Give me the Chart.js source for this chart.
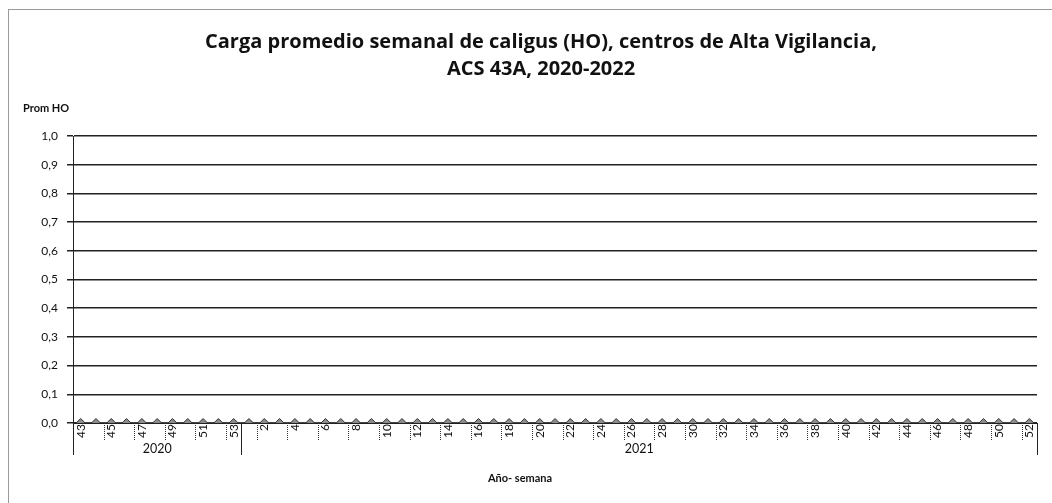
<!DOCTYPE html>
<html>
<head>
<meta charset="utf-8">
<script src="https://cdn.jsdelivr.net/npm/chart.js@4.4.1/dist/chart.umd.min.js"></script>
<style>
  html, body { margin: 0; padding: 0; background: #fff; overflow: hidden; }
  #wrap { position: relative; width: 1052px; height: 503px; }
  #frame { position: absolute; left: 8px; top: 9px; width: 1100px; height: 600px; border: 1px solid #9a9a9a; pointer-events: none; }
</style>
</head>
<body>
<div id="wrap">
  <canvas id="c" width="1052" height="503"></canvas>
  <div id="frame"></div>
</div>
<script>
// ---- data ----
const years = ['2020', '2021'];
const weeks2020 = [43, 44, 45, 46, 47, 48, 49, 50, 51, 52, 53];
const weeks2021 = [1, 2, 3, 4, 5, 6, 7, 8, 9, 10, 11, 12, 13, 14, 15, 16, 17, 18, 19, 20, 21, 22, 23, 24, 25, 26,
                   27, 28, 29, 30, 31, 32, 33, 34, 35, 36, 37, 38, 39, 40, 41, 42, 43, 44, 45, 46, 47, 48, 49, 50, 51, 52];
const values2020 = [0, 0, 0, 0, 0, 0, 0, 0, 0, 0, 0];
const values2021 = [0, 0, 0, 0, 0, 0, 0, 0, 0, 0, 0, 0, 0, 0, 0, 0, 0, 0, 0, 0, 0, 0, 0, 0, 0, 0,
                    0, 0, 0, 0, 0, 0, 0, 0, 0, 0, 0, 0, 0, 0, 0, 0, 0, 0, 0, 0, 0, 0, 0, 0, 0, 0];
const yTicks = [0.0, 0.1, 0.2, 0.3, 0.4, 0.5, 0.6, 0.7, 0.8, 0.9, 1.0];
const titleLines = ['Carga promedio semanal de caligus (HO), centros de Alta Vigilancia,', 'ACS 43A, 2020-2022'];
const yAxisTitle = 'Prom HO';
const xAxisTitle = 'Año- semana';

const weekGroups = [weeks2020, weeks2021];
const labels = weekGroups.flat().map(String);
const values = [values2020, values2021].flat();

const FONT = 'Lato, "Open Sans", sans-serif';

const groupPlugin = {
  id: 'groups',
  afterDraw(chart) {
    const ctx = chart.ctx;
    const x = chart.scales.x;
    const area = chart.chartArea;
    const step = x.getPixelForValue(1) - x.getPixelForValue(0);
    const boundary = i => x.getPixelForValue(i) - step / 2;
    ctx.save();
    // short separators every two categories
    ctx.strokeStyle = '#333';
    ctx.lineWidth = 1;
    ctx.setLineDash([1, 1]);
    for (let i = 0; i < labels.length; i += 2) {
      const px = Math.round(boundary(i)) + 0.5;
      ctx.beginPath(); ctx.moveTo(px, area.bottom); ctx.lineTo(px, area.bottom + 17); ctx.stroke();
    }
    // group separators and year labels
    let start = 0;
    const edges = [start];
    weekGroups.forEach(g => { start += g.length; edges.push(start); });
    ctx.setLineDash([]);
    ctx.strokeStyle = '#222';
    edges.forEach(e => {
      const px = Math.round(boundary(e)) + 0.5;
      ctx.beginPath(); ctx.moveTo(px, area.bottom); ctx.lineTo(px, area.bottom + 32); ctx.stroke();
    });
    ctx.fillStyle = '#111';
    ctx.font = '12.5px ' + FONT;
    ctx.textAlign = 'center';
    ctx.textBaseline = 'middle';
    years.forEach((y, k) => {
      const cx = (boundary(edges[k]) + boundary(edges[k + 1])) / 2;
      ctx.fillText(y, cx, area.bottom + 26);
    });
    // axis titles
    ctx.font = 'bold 11px ' + FONT;
    ctx.fillText(xAxisTitle, (area.left + area.right) / 2 - 35, area.bottom + 55);
    ctx.textAlign = 'left';
    ctx.fillText(yAxisTitle, area.left - 50, area.top - 28);
    ctx.restore();
  }
};

new Chart(document.getElementById('c'), {
  type: 'line',
  data: {
    labels: labels,
    datasets: [{
      label: 'Prom HO',
      data: values,
      borderColor: '#444',
      borderWidth: 2,
      pointStyle: 'rectRot',
      pointRadius: 4.5,
      pointBackgroundColor: '#8c8c8c',
      pointBorderColor: '#333',
      pointBorderWidth: 1,
      tension: 0
    }]
  },
  options: {
    responsive: false,
    animation: false,
    layout: { padding: { left: 30, right: 0, top: 0, bottom: 0 } },
    plugins: {
      legend: { display: false },
      tooltip: { enabled: false },
      title: {
        display: true,
        text: titleLines,
        color: '#111',
        font: { family: '"Open Sans", Lato, sans-serif', size: 20, weight: 'bold', lineHeight: 1.35 },
        padding: { top: 29, bottom: 53 }
      }
    },
    scales: {
      x: {
        type: 'category',
        offset: true,
        grid: { display: true, drawOnChartArea: false, drawTicks: false, offset: true },
        border: { display: true, color: '#222', width: 1 },
        ticks: {
          autoSkip: false,
          maxRotation: 90,
          minRotation: 90,
          padding: 1,
          color: '#111',
          font: { family: FONT, size: 12 },
          callback: function (v, i) { return i % 2 === 0 ? labels[i] : ''; }
        },
        afterFit(s) { s.height = 80; }
      },
      y: {
        min: 0,
        max: 1,
        afterBuildTicks(s) { s.ticks = yTicks.map(v => ({ value: v })); },
        grid: { color: '#222', lineWidth: 1.5, tickLength: 6 },
        border: { display: true, color: '#222', width: 1 },
        ticks: {
          padding: 9,
          color: '#111',
          font: { family: FONT, size: 12 },
          callback: v => Number(v).toFixed(1).replace('.', ',')
        },
        afterFit(s) { s.width = 43; }
      },
      yR: {
        type: 'linear',
        position: 'right',
        display: true,
        grid: { display: false },
        border: { display: false },
        ticks: { display: false },
        afterFit(s) { s.width = 15; }
      }
    }
  },
  plugins: [groupPlugin]
});
</script>
</body>
</html>
